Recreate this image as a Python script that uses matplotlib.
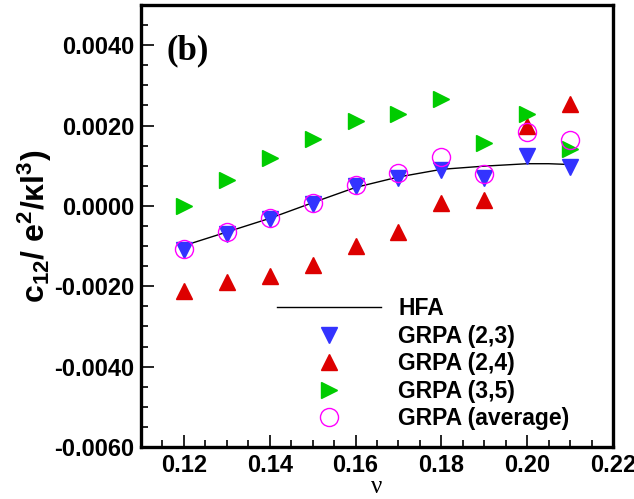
import numpy as np
import matplotlib
matplotlib.use('Agg')
import matplotlib.pyplot as plt
from matplotlib.ticker import MultipleLocator, FormatStrFormatter

# --- data ---
nu = [0.12, 0.13, 0.14, 0.15, 0.16, 0.17, 0.18, 0.19, 0.20, 0.21]

hfa_nu = [0.12, 0.13, 0.14, 0.15, 0.16, 0.17, 0.18, 0.185, 0.19, 0.195, 0.20, 0.205, 0.21]
hfa = [-0.00099, -0.00065, -0.00031, 0.00008, 0.00046, 0.00072, 0.00091,
       0.00095, 0.00099, 0.00102, 0.00105, 0.00105, 0.00103]

grpa_23 = [-0.00109, -0.00069, -0.00033, 0.00004, 0.00050, 0.00070, 0.00089,
           0.00069, 0.00124, 0.00097]
grpa_24 = [-0.00211, -0.00190, -0.00174, -0.00147, -0.00101, -0.00064, 0.00007,
           0.00014, 0.00199, 0.00254]
grpa_35 = [0.00000, 0.00064, 0.00118, 0.00166, 0.00211, 0.00229, 0.00265,
           0.00157, 0.00229, 0.00141]
grpa_avg = [-0.00108, -0.00066, -0.00031, 0.00006, 0.00053, 0.00081, 0.00122,
            0.00079, 0.00184, 0.00164]

plt.rcParams['font.family'] = ['Liberation Sans', 'DejaVu Sans']
plt.rcParams['mathtext.fontset'] = 'custom'
plt.rcParams['mathtext.rm'] = 'Liberation Sans:bold'
plt.rcParams['mathtext.it'] = 'Liberation Sans:bold'
plt.rcParams['mathtext.bf'] = 'Liberation Sans:bold'

fig = plt.figure(figsize=(6.34, 4.99), dpi=100)
ax = fig.add_axes([0.2224, 0.1042, 0.7446, 0.8858])

ax.plot(hfa_nu, hfa, color='black', lw=1.0, label='HFA')
ax.plot(nu, grpa_23, 'v', color='#3333ff', ms=11.5, mec='#3333ff', label='GRPA (2,3)')
ax.plot(nu, grpa_24, '^', color='#dd0000', ms=11.5, mec='#dd0000', label='GRPA (2,4)')
ax.plot(nu, grpa_35, '>', color='#00cc00', ms=11.5, mec='#00cc00', label='GRPA (3,5)')
ax.plot(nu, grpa_avg, 'o', mfc='none', mec='#ff00ff', mew=1.0, ms=13, label='GRPA (average)')

ax.set_xlim(0.11, 0.22)
ax.set_ylim(-0.006, 0.005)
ax.xaxis.set_major_locator(MultipleLocator(0.02))
ax.xaxis.set_minor_locator(MultipleLocator(0.005))
ax.yaxis.set_major_locator(MultipleLocator(0.002))
ax.yaxis.set_minor_locator(MultipleLocator(0.0005))
ax.xaxis.set_major_formatter(FormatStrFormatter('%.2f'))
ax.yaxis.set_major_formatter(FormatStrFormatter('%.4f'))

ax.tick_params(which='both', direction='in', top=False, right=False, width=1.2)
ax.tick_params(which='major', length=9, labelsize=17, pad=5)
ax.tick_params(which='minor', length=5)
for lab in ax.get_xticklabels() + ax.get_yticklabels():
    lab.set_fontweight('bold')
for s in ax.spines.values():
    s.set_linewidth(2.4)

ax.set_xlabel('ν', family='Liberation Serif', fontsize=18, labelpad=-1)
ax.set_ylabel('c$_{12}$/ e$^2$/κl$^3$)', fontsize=23, fontweight='bold', labelpad=0)

ax.text(0.055, 0.896, '(b)', transform=ax.transAxes, family='Liberation Serif',
        fontweight='bold', fontsize=25, va='center', ha='left')

leg = ax.legend(loc='upper left', bbox_to_anchor=(0.288, 0.339), frameon=False,
                prop={'weight': 'bold', 'size': 16.5}, handlelength=4.55,
                handletextpad=0.75, labelspacing=0.2, borderpad=0, borderaxespad=0)

fig.savefig('out.png', dpi=100)
